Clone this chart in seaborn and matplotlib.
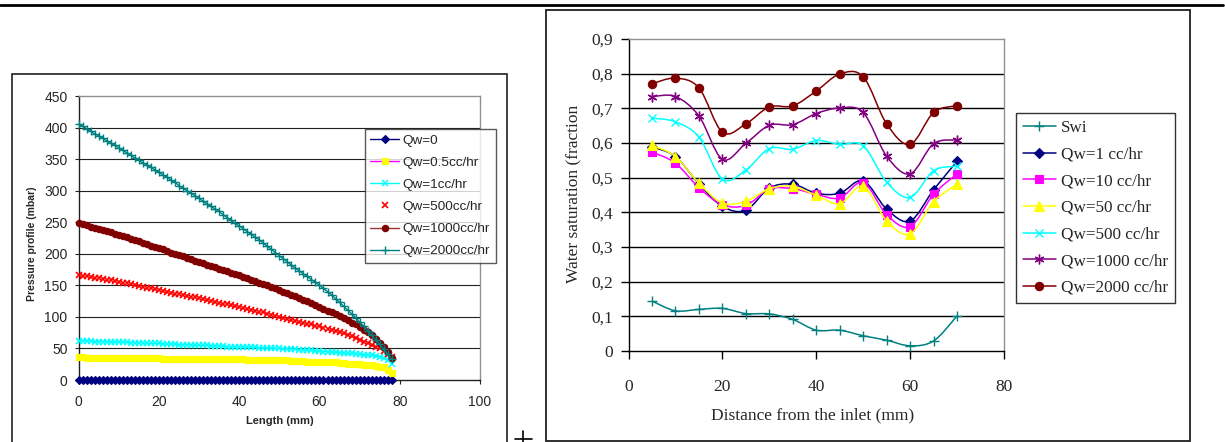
import matplotlib
matplotlib.use("Agg")
import matplotlib.pyplot as plt
from matplotlib.lines import Line2D
from matplotlib.patches import Rectangle, PathPatch
from matplotlib.path import Path
from matplotlib.ticker import FuncFormatter
import numpy as np
import seaborn as sns

# ---- left chart: pressure profile along the core (one reading per mm) ----
length_mm = [0, 1, 2, 3, 4, 5, 6, 7, 8, 9, 10, 11, 12, 13, 14, 15, 16, 17, 18, 19,
             20, 21, 22, 23, 24, 25, 26, 27, 28, 29, 30, 31, 32, 33, 34, 35, 36, 37, 38, 39,
             40, 41, 42, 43, 44, 45, 46, 47, 48, 49, 50, 51, 52, 53, 54, 55, 56, 57, 58, 59,
             60, 61, 62, 63, 64, 65, 66, 67, 68, 69, 70, 71, 72, 73, 74, 75, 76, 77, 78]
p_qw0 = [0, 0, 0, 0, 0, 0, 0, 0, 0, 0, 0, 0, 0, 0, 0, 0, 0, 0, 0, 0,
         0, 0, 0, 0, 0, 0, 0, 0, 0, 0, 0, 0, 0, 0, 0, 0, 0, 0, 0, 0,
         0, 0, 0, 0, 0, 0, 0, 0, 0, 0, 0, 0, 0, 0, 0, 0, 0, 0, 0, 0,
         0, 0, 0, 0, 0, 0, 0, 0, 0, 0, 0, 0, 0, 0, 0, 0, 0, 0, 0]
p_qw05 = [36, 36, 35, 35, 35, 35, 35, 35, 35, 35, 35, 35, 35, 35, 35, 35, 35, 35, 35, 35,
          35, 34, 34, 34, 34, 34, 34, 34, 34, 34, 34, 34, 34, 34, 33, 33, 33, 33, 33, 33,
          33, 33, 32, 32, 32, 32, 32, 31, 31, 31, 31, 31, 31, 30, 30, 30, 30, 29, 29, 29,
          29, 28, 28, 28, 28, 27, 27, 26, 26, 25, 25, 24, 24, 23, 22, 21, 20, 16, 11]
p_qw1 = [62, 62, 62, 62, 61, 61, 61, 61, 60, 60, 60, 60, 60, 59, 59, 59, 59, 58, 58, 58,
         58, 57, 57, 57, 57, 56, 56, 56, 56, 55, 55, 55, 55, 54, 54, 54, 54, 53, 53, 53,
         53, 52, 52, 52, 52, 51, 51, 51, 51, 50, 50, 49, 49, 49, 49, 48, 48, 47, 47, 46,
         46, 45, 45, 44, 44, 43, 43, 42, 42, 41, 41, 40, 40, 39, 38, 37, 35, 31, 26]
p_qw500 = [167, 165, 164, 163, 162, 161, 160, 159, 158, 157, 156, 154, 153, 152, 151, 149, 148, 146, 145, 144,
           143, 141, 140, 138, 137, 136, 135, 133, 132, 131, 130, 128, 127, 125, 124, 122, 121, 120, 119, 117,
           116, 114, 113, 111, 110, 108, 107, 105, 103, 101, 100, 98, 97, 95, 94, 92, 91, 89, 88, 86,
           85, 83, 81, 80, 78, 76, 74, 71, 69, 66, 64, 61, 59, 56, 53, 50, 46, 41, 36]
p_qw1000 = [248, 247, 245, 243, 241, 240, 238, 236, 234, 232, 230, 228, 226, 224, 222, 220, 217, 215, 213, 211,
            209, 207, 205, 202, 200, 198, 196, 193, 191, 189, 187, 185, 183, 181, 179, 176, 174, 172, 170, 168,
            166, 163, 161, 159, 157, 154, 152, 150, 148, 145, 143, 140, 138, 135, 133, 130, 127, 125, 122, 119,
            116, 113, 110, 107, 104, 101, 98, 95, 91, 88, 84, 80, 76, 71, 65, 59, 52, 44, 35]
p_qw2000 = [405, 402, 398, 394, 390, 387, 383, 379, 375, 372, 368, 364, 360, 356, 352, 348, 344, 341, 337, 333,
            329, 325, 321, 317, 313, 308, 304, 300, 296, 292, 288, 283, 279, 275, 271, 267, 262, 257, 253, 248,
            244, 240, 235, 231, 226, 222, 217, 212, 207, 202, 197, 192, 187, 182, 177, 173, 168, 164, 159, 155,
            150, 145, 140, 135, 129, 123, 117, 111, 105, 99, 92, 85, 78, 71, 64, 57, 49, 41, 33]
left_labels = ["Qw=0", "Qw=0.5cc/hr", "Qw=1cc/hr", "Qw=500cc/hr", "Qw=1000cc/hr", "Qw=2000cc/hr"]

# ---- right chart: water saturation profile ----
dist_mm = [5, 10, 15, 20, 25, 30, 35, 40, 45, 50, 55, 60, 65, 70]
sw_swi = [0.144, 0.116, 0.120, 0.123, 0.108, 0.107, 0.091, 0.060, 0.060, 0.044, 0.031, 0.015, 0.029, 0.101]
sw_1 = [0.589, 0.561, 0.482, 0.417, 0.406, 0.470, 0.481, 0.455, 0.455, 0.491, 0.409, 0.375, 0.465, 0.547]
sw_10 = [0.574, 0.542, 0.471, 0.422, 0.420, 0.467, 0.468, 0.452, 0.441, 0.486, 0.393, 0.359, 0.452, 0.511]
sw_50 = [0.593, 0.561, 0.484, 0.427, 0.432, 0.468, 0.475, 0.449, 0.425, 0.475, 0.375, 0.338, 0.431, 0.481]
sw_500 = [0.672, 0.661, 0.617, 0.496, 0.522, 0.584, 0.582, 0.607, 0.596, 0.592, 0.487, 0.443, 0.520, 0.533]
sw_1000 = [0.734, 0.734, 0.678, 0.553, 0.599, 0.651, 0.653, 0.685, 0.701, 0.688, 0.562, 0.511, 0.598, 0.609]
sw_2000 = [0.771, 0.787, 0.759, 0.631, 0.655, 0.704, 0.707, 0.750, 0.799, 0.791, 0.655, 0.596, 0.688, 0.708]
right_labels = ["Swi", "Qw=1 cc/hr", "Qw=10 cc/hr", "Qw=50 cc/hr", "Qw=500 cc/hr", "Qw=1000 cc/hr", "Qw=2000 cc/hr"]

sns.set_style("white")
SANS = ["Liberation Sans", "DejaVu Sans"]
SERIF = ["Liberation Serif", "DejaVu Serif"]
plt.rcParams["font.family"] = SANS

W, H = 1225, 442
fig = plt.figure(figsize=(W / 100, H / 100), dpi=100)


def px_axes(x0, y0, x1, y1):
    return fig.add_axes([x0 / W, 1 - y1 / H, (x1 - x0) / W, (y1 - y0) / H])


def excel_smooth(xs, ys):
    # cubic bezier through the points, like Excel's "smoothed line"
    pts = np.column_stack([xs, ys]).astype(float)
    ext = np.vstack([pts[0], pts, pts[-1]])
    verts, codes = [pts[0]], [Path.MOVETO]
    for i in range(len(pts) - 1):
        p0, p1, p2, p3 = ext[i], ext[i + 1], ext[i + 2], ext[i + 3]
        verts += [p1 + (p2 - p0) / 6, p2 - (p3 - p1) / 6, p2]
        codes += [Path.CURVE4] * 3
    return Path(verts, codes)


# ================= left panel =================
axL = px_axes(78.7, 96, 480, 380)
left_styles = [
    # line color, marker, face, edge, size, mew, linestyle
    ("#000080", "D", "#000080", "#000080", 4.0, 0.8, "-"),
    ("#FF00FF", "s", "#FFFF00", "#FFFF00", 4.5, 0.8, "-"),
    ("#00FFFF", "x", "#00FFFF", "#00FFFF", 4.5, 1.1, "-"),
    ("#FF0000", "x", "#FF0000", "#FF0000", 4.5, 1.2, "None"),
    ("#993333", "o", "#800000", "#800000", 4.6, 0.8, "-"),
    ("#008080", "+", "#008080", "#008080", 5.5, 1.0, "-"),
]
left_series = [p_qw0, p_qw05, p_qw1, p_qw500, p_qw1000, p_qw2000]
for vals, (lc, m, mfc, mec, ms, mew, ls) in zip(left_series, left_styles):
    sns.lineplot(x=length_mm, y=vals, ax=axL, color=lc, linewidth=1, linestyle=ls,
                 marker=m, markersize=ms, markerfacecolor=mfc, markeredgecolor=mec,
                 markeredgewidth=mew, clip_on=False, legend=False, zorder=3)

axL.set_xlim(0, 100)
axL.set_ylim(0, 450)
axL.set_xticks([0, 20, 40, 60, 80, 100])
axL.set_yticks([0, 50, 100, 150, 200, 250, 300, 350, 400, 450])
for v in [50, 100, 150, 200, 250, 300, 350, 400]:
    axL.axhline(v, color="#202020", lw=0.8, zorder=1)
for side in ["left", "bottom"]:
    axL.spines[side].set_color("#202020")
    axL.spines[side].set_linewidth(1.0)
for side in ["top", "right"]:
    axL.spines[side].set_color("#909090")
    axL.spines[side].set_linewidth(1.0)
axL.tick_params(axis="both", direction="out", length=3, width=0.8, color="#202020",
                labelsize=10, bottom=True, left=True)
axL.tick_params(axis="x", pad=8)
axL.tick_params(axis="y", pad=5)
axL.set_xlabel("Length (mm)", fontsize=8, fontweight="bold", family=SANS)
axL.set_ylabel("Pressure profile (mbar)", fontsize=7.5, fontweight="bold", family=SANS)
axL.xaxis.label.set_verticalalignment("center")
axL.yaxis.label.set_verticalalignment("center")
axL.xaxis.set_label_coords((280 - 78.7) / 401.3, (380 - 421) / 284)
axL.yaxis.set_label_coords((32 - 78.7) / 401.3, (380 - 244) / 284)

handlesL = []
for lab, (lc, m, mfc, mec, ms, mew, ls) in zip(left_labels, left_styles):
    handlesL.append(Line2D([], [], color=lc, linestyle=ls, lw=1, marker=m, markersize=ms,
                           markerfacecolor=mfc, markeredgecolor=mec, markeredgewidth=mew))
legL = fig.legend(handles=handlesL, labels=left_labels, loc="upper left",
                  bbox_to_anchor=(365 / W, 1 - 129 / H), borderaxespad=0,
                  prop={"family": SANS, "size": 9.7}, frameon=True, fancybox=False,
                  handlelength=2.1, handletextpad=0.3, labelspacing=0.72, borderpad=0.4)
legL.get_frame().set_edgecolor("#303030")
legL.get_frame().set_linewidth(1.0)

# ================= right panel =================
axR = px_axes(628.5, 39, 1004, 351)
right_styles = [
    ("#008080", "+", 7, 1.0),
    ("#000080", "D", 5.5, 0.8),
    ("#FF00FF", "s", 5.5, 0.8),
    ("#FFFF00", "^", 6.5, 0.8),
    ("#00FFFF", "x", 6, 1.0),
    ("#800080", (6, 2, 0), 7, 1.0),
    ("#800000", "o", 6, 0.8),
]
right_series = [sw_swi, sw_1, sw_10, sw_50, sw_500, sw_1000, sw_2000]
for k, (vals, (c, m, ms, mew)) in enumerate(zip(right_series, right_styles)):
    axR.add_patch(PathPatch(excel_smooth(dist_mm, vals), facecolor="none", edgecolor=c,
                            lw=1.1, zorder=3 + k * 0.1))
    sns.lineplot(x=dist_mm, y=vals, ax=axR, color=c, linestyle="None", marker=m, markersize=ms,
                 markerfacecolor=c, markeredgecolor=c, markeredgewidth=mew,
                 legend=False, zorder=3.05 + k * 0.1)

axR.set_xlim(0, 80)
axR.set_ylim(0, 0.9)
axR.set_xticks([0, 20, 40, 60, 80])
axR.set_yticks([0, 0.1, 0.2, 0.3, 0.4, 0.5, 0.6, 0.7, 0.8, 0.9])
axR.yaxis.set_major_formatter(FuncFormatter(lambda v, p: "0" if abs(v) < 1e-9 else f"{v:.1f}".replace(".", ",")))
for v in [0.1, 0.2, 0.3, 0.4, 0.5, 0.6, 0.7, 0.8]:
    axR.axhline(v, color="#000000", lw=1.0, zorder=1)
for side in ["left", "bottom"]:
    axR.spines[side].set_color("#000000")
    axR.spines[side].set_linewidth(1.0)
for side in ["top", "right"]:
    axR.spines[side].set_color("#909090")
    axR.spines[side].set_linewidth(1.0)
axR.tick_params(axis="both", direction="out", length=6, width=1.0, color="black",
                labelsize=12.5, bottom=True, left=True)
axR.tick_params(axis="x", pad=14)
axR.tick_params(axis="y", pad=5)
for t in axR.get_xticklabels() + axR.get_yticklabels():
    t.set_family(SERIF)
axR.set_xlabel("Distance from the inlet (mm)", fontsize=12.5, family=SERIF)
axR.set_ylabel("Water saturation (fraction", fontsize=12.5, family=SERIF)
axR.xaxis.label.set_verticalalignment("center")
axR.yaxis.label.set_verticalalignment("center")
axR.xaxis.set_label_coords((813 - 628.5) / 375.5, (351 - 415) / 312)
axR.yaxis.set_label_coords((574 - 628.5) / 375.5, (351 - 194) / 312)

handlesR = []
for c, m, ms, mew in right_styles:
    handlesR.append(Line2D([], [], color=c, lw=1.1, marker=m, markersize=ms,
                           markerfacecolor=c, markeredgecolor=c, markeredgewidth=mew))
legR = fig.legend(handles=handlesR, labels=right_labels, loc="upper left",
                  bbox_to_anchor=(1016 / W, 1 - 113 / H), borderaxespad=0,
                  prop={"family": SERIF, "size": 12.3}, frameon=True, fancybox=False,
                  handlelength=1.9, handletextpad=0.3, labelspacing=0.62, borderpad=0.42)
legR.get_frame().set_edgecolor("#000000")
legR.get_frame().set_linewidth(1.0)

# ---- page decorations: frames, top rule, stray plus ----
fig.add_artist(Rectangle((12 / W, -0.05), (507 - 12) / W, (442 - 74) / H + 0.05,
                         transform=fig.transFigure, fill=False, ec="#202020", lw=1.2))
fig.add_artist(Rectangle((546 / W, 1 / H), (1190 - 546) / W, (441 - 10) / H,
                         transform=fig.transFigure, fill=False, ec="#202020", lw=1.3))
fig.add_artist(Line2D([0, 1223 / W], [1 - 5 / H, 1 - 5 / H], transform=fig.transFigure,
                      color="black", lw=2.0))
fig.add_artist(Line2D([515 / W, 532 / W], [1 - 439 / H, 1 - 439 / H], transform=fig.transFigure,
                      color="black", lw=1.2))
fig.add_artist(Line2D([523 / W, 523 / W], [1 - 431 / H, 0], transform=fig.transFigure,
                      color="black", lw=1.2))

fig.savefig("out.png", dpi=100)
